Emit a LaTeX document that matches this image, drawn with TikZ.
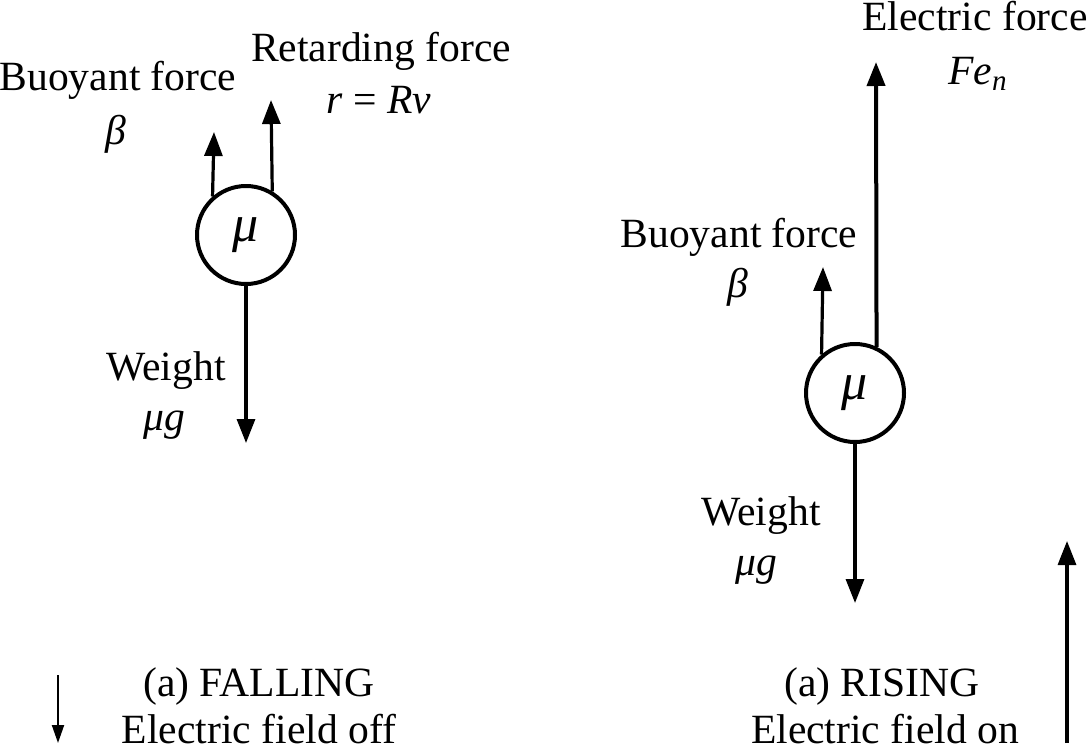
\documentclass[tikz,border=0pt]{standalone}
\usepackage{fontspec}
\setmainfont{Liberation Serif}
\usetikzlibrary{arrows.meta}
\begin{document}
\begin{tikzpicture}[
        x=0.5pt, y=0.5pt,
        >={Triangle[length=12pt,width=9pt]},
        drop/.style={circle, draw, line width=2pt, minimum size=49pt, inner sep=0pt, font=\fontsize{26}{28}\selectfont\itshape},
        force/.style={->, line width=1.6pt},
        field/.style={->, line width=1pt, >={Triangle[length=9pt,width=6pt]}},
        lbl/.style={anchor=base, inner sep=0pt, font=\fontsize{20.8}{24}\selectfont},
    ]
    \useasboundingbox (0,0) rectangle (1091,752);

    %Draw the two drops
    \node [drop] (mfall) at (246,517) {μ};
    \node [drop] (mrise) at (855,359) {μ};

    %Tips of the force arrows
    \coordinate (bfall) at (214,620);
    \coordinate (rfall) at (271,652);
    \coordinate (wfall) at (246,309);
    \coordinate (brise) at (823,485);
    \coordinate (erise) at (876,690);
    \coordinate (wrise) at (855,149);

    %Draw the forces on the falling drop
    \draw [force] (mfall.131) -- (bfall);
    \draw [force] (mfall.59) -- (rfall);
    \draw [force] (mfall.south) -- (wfall);

    %Draw the forces on the rising drop
    \draw [force] (mrise.131) -- (brise);
    \draw [force, line width=2pt] (mrise.65) -- (erise);
    \draw [force] (mrise.south) -- (wrise);

    %Labels of the falling drop
    \node [lbl] (buoyfall) at (118,662) {Buoyant force};
    \node [lbl] (betafall) at (116,608) {\itshape β};
    \node [lbl] (retard) at (381,690) {Retarding force};
    \node [lbl] (rrv) at (379,639) {\textit{r} = \textit{Rv}};
    \node [lbl] (weifall) at (166,372) {Weight};
    \node [lbl] (mgfall) at (164,322) {\itshape μg};

    %Labels of the rising drop
    \node [lbl] (elec) at (975,722) {Electric force};
    \node [lbl] (fen) at (978,668) {\textit{Fe}\textsubscript{\textit{n}}};
    \node [lbl] (buoyrise) at (739,505) {Buoyant force};
    \node [lbl] (betarise) at (738,455) {\itshape β};
    \node [lbl] (weirise) at (761,227) {Weight};
    \node [lbl] (mgrise) at (756,177) {\itshape μg};

    %Captions
    \node [lbl] (capfall) at (259,56) {(a) FALLING};
    \node [lbl] (offfall) at (259,9) {Electric field off};
    \node [lbl] (caprise) at (882,56) {(a) RISING};
    \node [lbl] (onrise) at (885,9) {Electric field on};

    %Draw the field arrows
    \coordinate (ftop) at (58,77);
    \coordinate (fbot) at (58,9);
    \coordinate (ntop) at (1067,211);
    \coordinate (nbot) at (1067,9);
    \draw [field] (ftop) -- (fbot);
    \draw [force] (nbot) -- (ntop);
\end{tikzpicture}
\end{document}
